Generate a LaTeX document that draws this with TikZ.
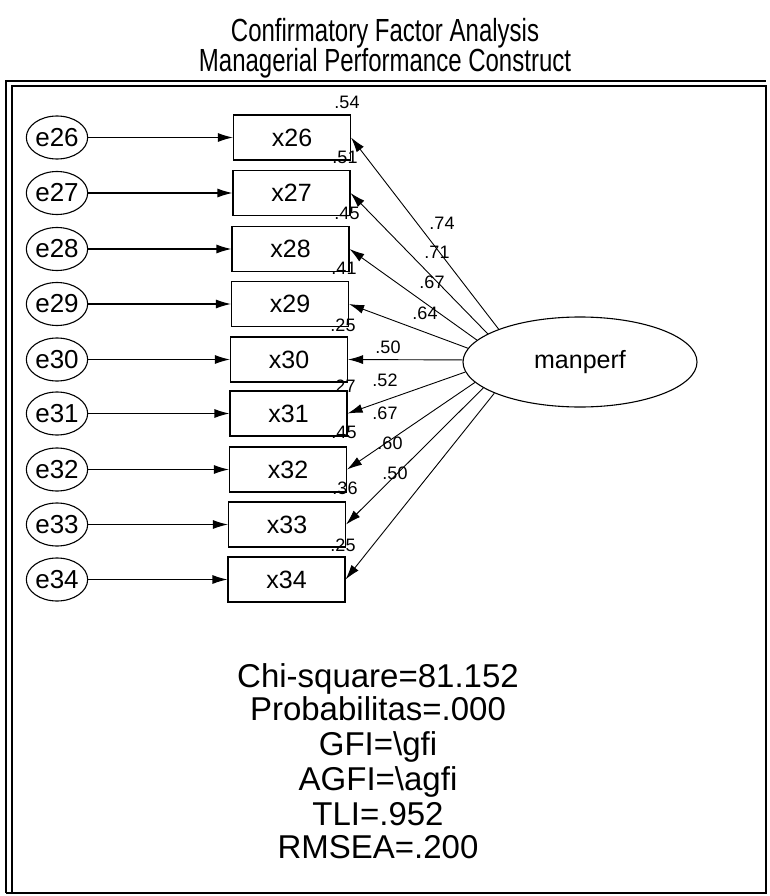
\documentclass[tikz,border=0pt]{standalone}
\usepackage{fontspec}
\setmainfont{Liberation Sans}
\newfontfamily\narrowsans[FakeStretch=0.75]{Liberation Sans}
\usetikzlibrary{arrows.meta,shapes.geometric}
\begin{document}
\begin{tikzpicture}[x=1pt,y=-1pt,
  obs/.style={draw,line width=1.1pt,minimum width=117pt,minimum height=45pt,inner sep=0pt,font=\fontsize{25}{25}\selectfont},
  err/.style={draw,ellipse,line width=1.1pt,minimum width=61pt,minimum height=43pt,inner sep=0pt,font=\fontsize{26}{26}\selectfont},
  lat/.style={draw,ellipse,line width=1.1pt,minimum width=234pt,minimum height=90pt,inner sep=0pt,font=\fontsize{25}{25}\selectfont},
  earr/.style={-{Latex[length=15pt,width=9pt]},line width=1.1pt},
  larr/.style={-{Latex[length=15pt,width=9pt]},line width=0.9pt},
  coef/.style={font=\fontsize{18}{18}\selectfont,inner sep=0pt},
  ttl/.style={font=\narrowsans\fontsize{32}{32}\selectfont,inner sep=0pt,anchor=base},
  fit/.style={font=\fontsize{33}{33}\selectfont,inner sep=0pt,anchor=base},
]
\useasboundingbox (0,0) rectangle (769,896);
% frame
\draw[line width=2pt] (6,893) -- (6,81) -- (766,81);
\draw[line width=1.3pt] (12,893) -- (12,86) -- (766,86) -- (766,893) -- (6,893);
% title
\node[ttl] (t1) at (385,42) {Confirmatory Factor Analysis};
\node[ttl] (t2) at (385,72) {Managerial Performance Construct};
% observed variables and errors
\foreach \n/\xx/\yy in {26/292/137.5,27/291.5/193,28/290.5/249,29/290/304,30/289/359.5,31/288.5/413.5,32/288/469.5,33/287/524.5,34/286.5/579.5}{
  \node[obs] (x\n) at (\xx,\yy) {x\n};
  \node[err] (e\n) at (57,\yy) {e\n};
  \draw[earr] (e\n) -- (x\n);
}
% latent
\node[lat] (m) at (580,362) {manperf};
\foreach \n/\a in {26/158,27/163,28/168,29/173,30/179,31/185,32/191,33/195,34/200}{
  \draw[larr] (m.\a) -- (x\n.east);
}
% loadings
\node[coef] (l26) at (442,223) {.74};
\node[coef] (l27) at (437,252) {.71};
\node[coef] (l28) at (432,282) {.67};
\node[coef] (l29) at (425,313) {.64};
\node[coef] (l30) at (388,347) {.50};
\node[coef] (l31) at (385,380) {.52};
\node[coef] (l32) at (385,413) {.67};
\node[coef] (l33) at (390,443) {.60};
\node[coef] (l34) at (395,473) {.50};
% squared multiple correlations
\node[coef] (r26) at (347,102) {.54};
\node[coef] (r27) at (345,157) {.51};
\node[coef] (r28) at (347,213) {.45};
\node[coef] (r29) at (344,268) {.41};
\node[coef] (r30) at (343,325) {.25};
\node[coef] (r31) at (343,386) {.27};
\node[coef] (r32) at (344,432) {.45};
\node[coef] (r33) at (345,488) {.36};
\node[coef] (r34) at (343,545) {.25};
% fit indices
\node[fit] (f1) at (378,687) {Chi-square=81.152};
\node[fit] (f2) at (378,720) {Probabilitas=.000};
\node[fit] (f3) at (378,755) {GFI=\textbackslash gfi};
\node[fit] (f4) at (378,790) {AGFI=\textbackslash agfi};
\node[fit] (f5) at (378,825) {TLI=.952};
\node[fit] (f6) at (378,858) {RMSEA=.200};
\end{tikzpicture}
\end{document}
